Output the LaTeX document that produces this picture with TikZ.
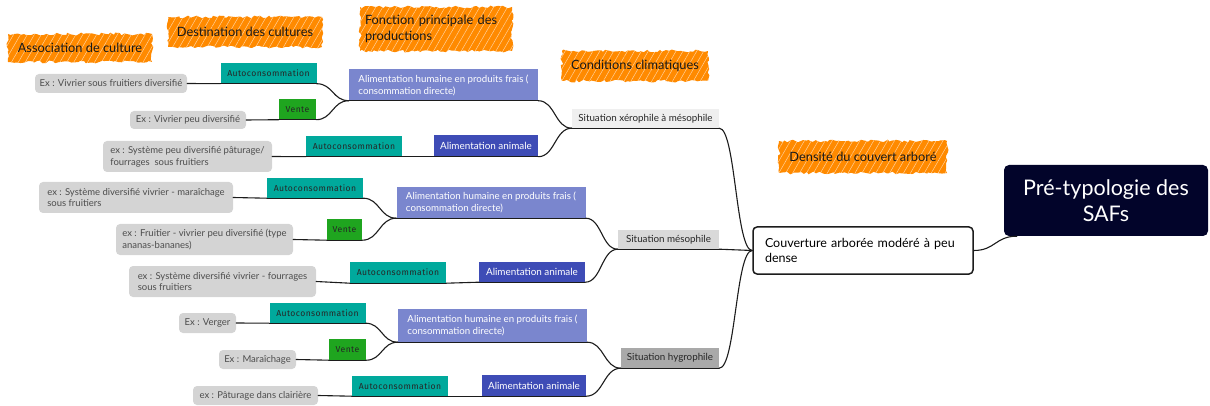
\documentclass[tikz,border=0pt]{standalone}
\usepackage{fontspec}
\setmainfont{Lato}
\newfontfamily\tagfont[LetterSpace=5]{Fira Sans}
\usetikzlibrary{calc}
\usetikzlibrary{decorations.pathmorphing,patterns.meta}

\definecolor{stickyorange}{HTML}{FF8A00}
\definecolor{autoc}{HTML}{00A99C}
\definecolor{ventegreen}{HTML}{1FA51F}
\definecolor{humblue}{HTML}{7A86CE}
\definecolor{aniblue}{HTML}{3E4CB6}
\definecolor{leafgray}{HTML}{D4D4D4}
\definecolor{leaftext}{HTML}{4D4D4D}
\definecolor{xerogray}{HTML}{EFEFEF}
\definecolor{mesogray}{HTML}{D9D9D9}
\definecolor{hygrogray}{HTML}{A9A9A9}
\definecolor{rootblue}{HTML}{02042A}
\definecolor{branchline}{HTML}{1C1C1C}

% S-shaped branch between two anchors
\newcommand{\mapedge}[2]{%
  \path ($(#1)!0.5!(#2)$) coordinate (mid);
  \draw[branch] (#1) .. controls (mid |- #1) and (mid |- #2) .. (#2);}
\newcommand{\underl}[1]{\draw[branch] (#1.south west) -- (#1.south east);}

\begin{document}
\begin{tikzpicture}[x=1pt, y=-1pt,
  branch/.style={draw=branchline, line width=1.1pt, line cap=round},
  sticky/.style={fill=stickyorange, decorate,
    decoration={random steps, segment length=3pt, amplitude=1.4pt},
    postaction={pattern={Lines[angle=60,distance=6pt,line width=0.45pt]},
      pattern color=white!65!stickyorange},
    text=black!90, inner sep=0pt, font=\fontsize{12.8}{16}\selectfont},
  root/.style={fill=rootblue, text=white, rounded corners=5pt, align=center,
    font=\fontsize{21.5}{26}\selectfont},
  couvert/.style={draw=branchline, fill=white, line width=1.5pt, rounded corners=4pt,
    inner xsep=12pt, align=left, font=\fontsize{12.5}{15.5}\selectfont},
  situ/.style={minimum height=19, inner sep=0pt, text=black!85,
    font=\fontsize{9.8}{11}\selectfont},
  humain/.style={fill=humblue, text=white, minimum width=189, inner sep=0pt,
    minimum height=31, align=left, font=\fontsize{9.7}{12}\selectfont},
  animal/.style={fill=aniblue, text=white, minimum width=104, minimum height=21,
    inner sep=0pt, font=\fontsize{9.9}{11}\selectfont},
  autoconso/.style={fill=autoc, text=black!85, minimum width=96, minimum height=20,
    inner sep=0pt, font=\tagfont\fontsize{8.6}{10}\selectfont},
  vente/.style={fill=ventegreen, text=black!85, minimum width=37, minimum height=20,
    inner sep=0pt, font=\tagfont\fontsize{8.6}{10}\selectfont},
  leaf/.style={fill=leafgray, text=leaftext, rounded corners=4pt, inner sep=0pt,
    align=left, font=\fontsize{9.5}{11.8}\selectfont}]
\useasboundingbox (0,0) rectangle (1210,406);

% column headers
\node[sticky, minimum width=144, minimum height=28] (assoc) at (80,48) {Association de culture};
\node[sticky, minimum width=154, minimum height=30] (destin) at (245,32) {Destination des cultures};
\node[sticky, text width=142, inner xsep=5pt, minimum height=44, align=left] (fonction) at (436,29) {Fonction principale des\\productions};
\node[sticky, minimum width=146, minimum height=30] (climat) at (635,66) {Conditions climatiques};
\node[sticky, minimum width=168, minimum height=32] (densite) at (863,157) {Densité du couvert arboré};

% root and density
\node[root, minimum width=204, minimum height=71] (racine) at (1106,200.5) {Pré-typologie des\\SAFs};
\node[couvert, text width=196, minimum height=47] (couvert) at (863,250.5) {Couverture arborée modéré à peu\\dense};
\coordinate (rootfoot) at ([xshift=13pt]racine.south west);

% climate
\node[situ, fill=xerogray, minimum width=147] (xero) at (645.5,118.5) {Situation xérophile à mésophile};
\node[situ, fill=mesogray, minimum width=101] (meso) at (668.5,239.5) {Situation mésophile};
\node[situ, fill=hygrogray, minimum width=98, minimum height=20] (hygro) at (670,358) {Situation hygrophile};

% main function
\node[humain] (humA) at (443.5,85) {Alimentation humaine en produits frais (\\consommation directe)};
\node[humain] (humB) at (491,202.5) {Alimentation humaine en produits frais (\\consommation directe)};
\node[humain, minimum height=33] (humC) at (492.5,325.5) {Alimentation humaine en produits frais (\\consommation directe)};
\node[animal] (aniA) at (486,146) {Alimentation animale};
\node[animal, minimum width=106, minimum height=20] (aniB) at (532,272) {Alimentation animale};
\node[animal] (aniC) at (534,385.5) {Alimentation animale};

% destination
\node[autoconso] (autoA) at (268.5,73.5) {Autoconsommation};
\node[vente] (venteA) at (297.5,109.5) {Vente};
\node[autoconso] (autoA2) at (354,146.5) {Autoconsommation};
\node[autoconso] (autoB) at (315,188) {Autoconsommation};
\node[vente, minimum width=35, minimum height=21] (venteB) at (344.5,229.5) {Vente};
\node[autoconso, minimum height=21] (autoB2) at (398,272.5) {Autoconsommation};
\node[autoconso] (autoC) at (317.5,313) {Autoconsommation};
\node[vente, minimum height=21] (venteC) at (347.5,349.5) {Vente};
\node[autoconso] (autoC2) at (400,386) {Autoconsommation};

% crop associations
\node[leaf, minimum width=152, minimum height=19] (exA1) at (111,83.5) {Ex : Vivrier sous fruitiers diversifié};
\node[leaf, minimum width=116, minimum height=18] (exA2) at (188,120) {Ex : Vivrier peu diversifié};
\node[leaf, minimum width=169, minimum height=31] (exA3) at (187.5,156.5) {ex : Système peu diversifié pâturage/\\fourrages\ \ sous fruitiers};
\node[leaf, minimum width=194, minimum height=31] (exB1) at (136,197.5) {ex : Système diversifié vivrier - maraîchage\\sous fruitiers};
\node[leaf, minimum width=177, minimum height=31] (exB2) at (204.5,239.5) {ex : Fruitier - vivrier peu diversifié (type\\ananas-bananes)};
\node[leaf, minimum width=187, minimum height=31] (exB3) at (222.5,281.5) {ex : Système diversifié vivrier - fourrages\\sous fruitiers};
\node[leaf, minimum width=57, minimum height=20] (exC1) at (207.5,323) {Ex : Verger};
\node[leaf, minimum width=77, minimum height=19] (exC2) at (257.5,359.5) {Ex : Maraîchage};
\node[leaf, minimum width=125, minimum height=19] (exC3) at (255.5,395.5) {ex : Pâturage dans clairière};

% underlines
\foreach \n in {autoA,venteA,autoA2,autoB,venteB,autoB2,autoC,venteC,autoC2,
  humA,humB,humC,aniA,aniB,aniC,xero,meso,hygro}
  {\underl{\n}}

% branches
\mapedge{couvert.east}{rootfoot}
\mapedge{xero.south east}{couvert.west}
\mapedge{meso.south east}{couvert.west}
\mapedge{hygro.south east}{couvert.west}
\mapedge{humA.south east}{xero.south west}
\mapedge{aniA.south east}{xero.south west}
\mapedge{humB.south east}{meso.south west}
\mapedge{aniB.south east}{meso.south west}
\mapedge{humC.south east}{hygro.south west}
\mapedge{aniC.south east}{hygro.south west}
\mapedge{autoA.south east}{humA.south west}
\mapedge{venteA.south east}{humA.south west}
\mapedge{autoA2.south east}{aniA.south west}
\mapedge{autoB.south east}{humB.south west}
\mapedge{venteB.south east}{humB.south west}
\mapedge{autoB2.south east}{aniB.south west}
\mapedge{autoC.south east}{humC.south west}
\mapedge{venteC.south east}{humC.south west}
\mapedge{autoC2.south east}{aniC.south west}
\mapedge{exA1.east}{autoA.south west}
\mapedge{exA2.east}{venteA.south west}
\mapedge{exA3.east}{autoA2.south west}
\mapedge{exB1.east}{autoB.south west}
\mapedge{exB2.east}{venteB.south west}
\mapedge{exB3.east}{autoB2.south west}
\mapedge{exC1.east}{autoC.south west}
\mapedge{exC2.east}{venteC.south west}
\mapedge{exC3.east}{autoC2.south west}
\end{tikzpicture}
\end{document}
